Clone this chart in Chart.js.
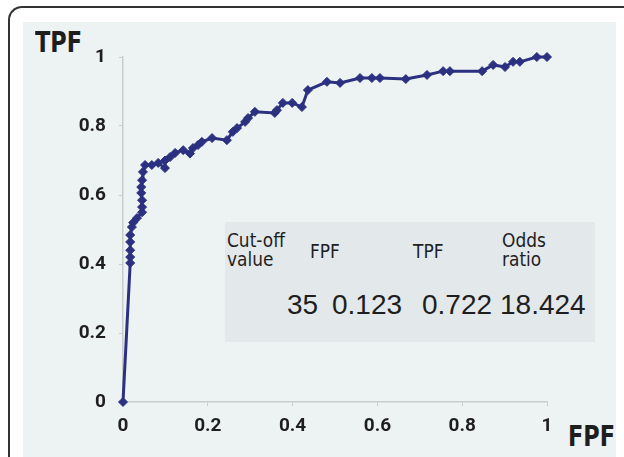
<!DOCTYPE html>
<html>
<head>
<meta charset="utf-8">
<script src="https://cdn.jsdelivr.net/npm/chart.js@4/dist/chart.umd.min.js"></script>
<style>
  body { margin: 0; width: 624px; height: 457px; position: relative; overflow: hidden; background: #fff; }
  .frame { position: absolute; left: 8px; top: 6px; width: 640px; height: 480px;
           border-top: 2px solid #333; border-left: 2px solid #333; border-top-left-radius: 14px; }
  .panel { position: absolute; left: 23px; top: 22px; width: 593px; height: 440px; background: #edf2f2; }
  .wrap { position: absolute; left: 0; top: 0; width: 624px; height: 457px; }
  .narrow { font-family: 'DejaVu Sans', sans-serif; color: #1e1e1e; transform-origin: left top; }
  .title { position: absolute; font-size: 28px; font-weight: bold; line-height: 1; transform: scaleX(0.8); }
  .table { position: absolute; left: 225px; top: 222px; width: 370px; height: 120px; background: #e3e8ea; }
  .head { position: absolute; font-size: 20px; line-height: 19px; transform: scaleX(0.85); }
  .val { position: absolute; top: 69px; font-family: 'Liberation Sans', Arial, sans-serif;
         font-size: 28px; color: #1e1e1e; line-height: 1; }
</style>
</head>
<body>
<div class="frame"></div>
<div class="panel"></div>
<div class="title narrow" style="left:35px;top:29px;">TPF</div>
<div class="title narrow" style="left:568px;top:423px;">FPF</div>
<div class="table">
  <div class="head narrow" style="left:2px;top:9px;">Cut-off<br>value</div>
  <div class="head narrow" style="left:85px;top:20px;">FPF</div>
  <div class="head narrow" style="left:188px;top:20px;">TPF</div>
  <div class="head narrow" style="left:277px;top:9px;">Odds<br>ratio</div>
  <div class="val" style="left:62px;">35</div>
  <div class="val" style="left:107px;">0.123</div>
  <div class="val" style="left:197px;">0.722</div>
  <div class="val" style="left:275px;">18.424</div>
</div>
<div class="wrap"><canvas id="roc" width="624" height="457"></canvas></div>
<script>
// ROC curve points
const fpfValues = [0, 0.017, 0.017, 0.017, 0.017, 0.017, 0.021, 0.024, 0.033, 0.045,
  0.045, 0.045, 0.043, 0.043, 0.045, 0.047, 0.052, 0.068, 0.083, 0.099,
  0.099, 0.111, 0.123, 0.142, 0.158, 0.165, 0.177, 0.186, 0.21, 0.245,
  0.259, 0.269, 0.288, 0.295, 0.311, 0.358, 0.363, 0.377, 0.399, 0.422,
  0.436, 0.481, 0.512, 0.559, 0.587, 0.606, 0.667, 0.717, 0.755, 0.771,
  0.847, 0.873, 0.901, 0.92, 0.936, 0.976, 1.0];
const tpfValues = [0, 0.403, 0.42, 0.44, 0.464, 0.484, 0.507, 0.52, 0.533, 0.55,
  0.565, 0.585, 0.606, 0.623, 0.643, 0.667, 0.687, 0.687, 0.693, 0.678,
  0.70, 0.71, 0.722, 0.73, 0.72, 0.736, 0.745, 0.754, 0.765, 0.759,
  0.783, 0.794, 0.812, 0.823, 0.841, 0.838, 0.846, 0.867, 0.867, 0.855,
  0.904, 0.928, 0.925, 0.939, 0.939, 0.939, 0.936, 0.948, 0.959, 0.959,
  0.959, 0.977, 0.971, 0.986, 0.986, 1.0, 1.0];
const tickValues = [0, 0.2, 0.4, 0.6, 0.8, 1];

const points = fpfValues.map((x, i) => ({ x: x, y: tpfValues[i] }));
const lineColor = '#2c3080';
const tickFont = { family: "Roboto, sans-serif", size: 19, weight: 'bold' };
const axisGray = '#c8cccc';

new Chart(document.getElementById('roc'), {
  type: 'scatter',
  data: {
    datasets: [{
      data: points,
      showLine: true,
      borderColor: lineColor,
      backgroundColor: lineColor,
      borderWidth: 3,
      pointStyle: 'rectRot',
      pointRadius: 4.5,
      pointBorderWidth: 1,
      clip: false
    }]
  },
  options: {
    responsive: false,
    animation: false,
    layout: { padding: { top: 57, right: 77, left: 0, bottom: 0 } },
    plugins: { legend: { display: false }, tooltip: { enabled: false } },
    scales: {
      x: {
        type: 'linear', min: 0, max: 1,
        afterBuildTicks: s => { s.ticks = tickValues.map(v => ({ value: v })); },
        afterFit: s => { s.height = 55; },
        ticks: { font: tickFont, color: '#1e1e1e', padding: 9, maxRotation: 0,
                 callback: v => String(Math.round(v * 10) / 10) },
        grid: { drawOnChartArea: false, drawTicks: true, tickLength: 4, color: axisGray },
        border: { color: axisGray, width: 1.5 }
      },
      y: {
        type: 'linear', min: 0, max: 1,
        afterBuildTicks: s => { s.ticks = tickValues.map(v => ({ value: v })); },
        afterFit: s => { s.width = 123; },
        ticks: { font: tickFont, color: '#1e1e1e', padding: 13,
                 callback: v => String(Math.round(v * 10) / 10) },
        grid: { drawOnChartArea: false, drawTicks: true, tickLength: 4, color: axisGray },
        border: { color: axisGray, width: 1.5 }
      }
    }
  }
});
</script>
</body>
</html>
